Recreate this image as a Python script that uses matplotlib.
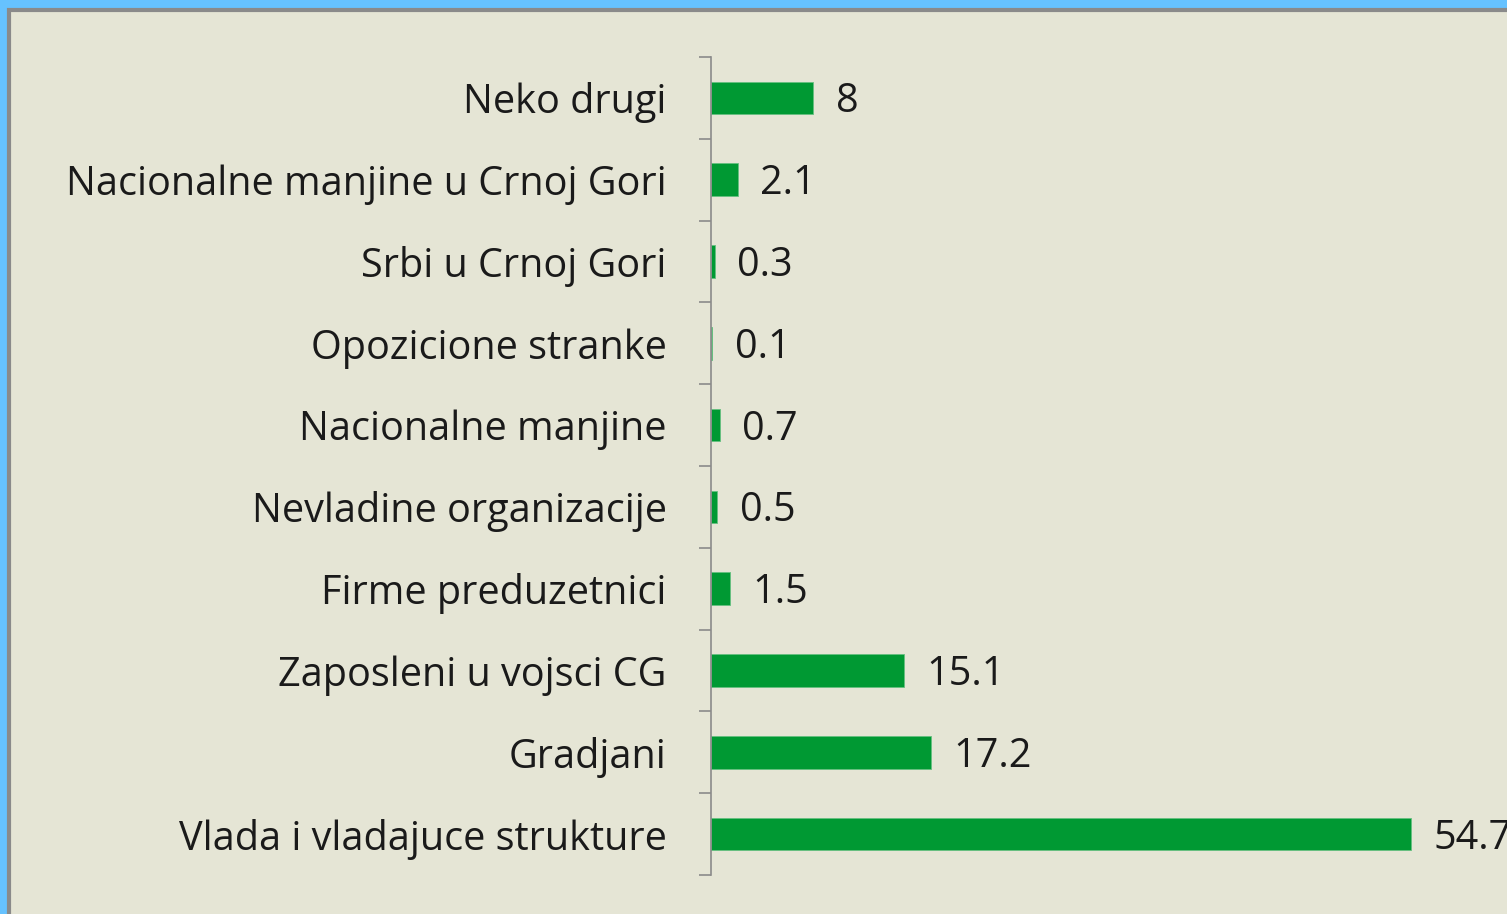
import numpy as np
import matplotlib.pyplot as plt
from matplotlib.patches import Rectangle
from matplotlib.ticker import FixedLocator

# Data (top to bottom as shown)
categories = ["Neko drugi", "Nacionalne manjine u Crnoj Gori", "Srbi u Crnoj Gori",
              "Opozicione stranke", "Nacionalne manjine", "Nevladine organizacije",
              "Firme preduzetnici", "Zaposleni u vojsci CG", "Gradjani",
              "Vlada i vladajuce strukture"]
values = [8, 2.1, 0.3, 0.1, 0.7, 0.5, 1.5, 15.1, 17.2, 54.7]
value_labels = ["8", "2.1", "0.3", "0.1", "0.7", "0.5", "1.5", "15.1", "17.2", "54.7"]

W, H = 1507, 914
fig = plt.figure(figsize=(W / 100, H / 100), dpi=100)
fig.patch.set_facecolor("#66c2ff")

# beige panel with gray border (runs off the right and bottom edges)
fig.patches.append(Rectangle((8.5 / W, -0.1), 1.1, 1.1 - 10.5 / H, transform=fig.transFigure,
                             facecolor="#e5e5d5", edgecolor="#8a8a8a", linewidth=3,
                             zorder=-1))

ax = fig.add_axes([711 / W, 1 - 875 / H, (W - 711) / W, (875 - 57) / H])
ax.set_facecolor("none")
ax.set_zorder(2)

n = len(categories)
y = np.arange(n)
ax.barh(y, values, height=0.4, color="#009933", edgecolor="#66c080", linewidth=0.6)
ax.set_xlim(0, (W - 711) / 12.8)
ax.set_ylim(n - 0.5, -0.5)

fsize = 28.5
for yi, v, lab in zip(y, values, value_labels):
    ax.annotate(lab, (v, yi), xytext=(16, -3), textcoords="offset points",
                va="center", ha="left", fontsize=fsize, color="#1a1a1a",
                family="Open Sans", annotation_clip=False)

ax.set_yticks(y)
ax.set_yticklabels(categories, fontsize=fsize, color="#1a1a1a", family="Open Sans")
ax.tick_params(axis="y", which="major", length=0, pad=32)
ax.yaxis.set_minor_locator(FixedLocator(np.arange(-0.5, n, 1)))
ax.tick_params(axis="y", which="minor", length=9, width=1.2, color="#8a8a8a")
ax.set_xticks([])

for s in ["top", "right", "bottom"]:
    ax.spines[s].set_visible(False)
ax.spines["left"].set_color("#8a8a8a")
ax.spines["left"].set_linewidth(1.2)

fig.savefig("out.png", dpi=100, facecolor=fig.get_facecolor())
